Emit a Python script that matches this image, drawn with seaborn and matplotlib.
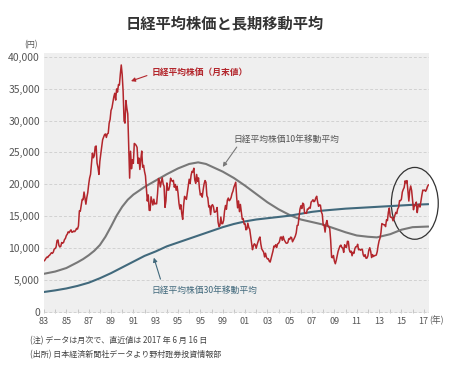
import numpy as np
import pandas as pd
import matplotlib
matplotlib.use('Agg')
import matplotlib.pyplot as plt
import seaborn as sns
from matplotlib.patches import Ellipse

# Nikkei 225, month-end closes (1983/01 - 2017/06)
nikkei_by_year = {
    1983: [8000, 8150, 8400, 8600, 8550, 8800, 8900, 9100, 9300, 9200, 9400, 9890],
    1984: [9950, 10200, 11200, 11300, 10450, 10200, 10300, 10900, 10800, 10900, 11350, 11540],
    1985: [11990, 12200, 12580, 12430, 12700, 12880, 12500, 12550, 12700, 12600, 12800, 13110],
    1986: [13000, 13500, 15860, 15800, 16700, 17650, 17600, 18800, 17900, 16900, 17950, 18700],
    1987: [20000, 21000, 21570, 23270, 24900, 24170, 24490, 25900, 26010, 23330, 22650, 21560],
    1988: [23620, 24700, 25900, 27000, 27400, 27770, 27900, 27350, 27920, 28000, 29580, 30160],
    1989: [31580, 31985, 32840, 33710, 34270, 33200, 34950, 34450, 35640, 35550, 37270, 38700],
    1990: [37190, 34590, 29980, 29590, 33130, 31940, 31040, 25980, 20980, 25190, 22450, 23850],
    1991: [23290, 26410, 26290, 26110, 25790, 23290, 24120, 22340, 23920, 25220, 22690, 22980],
    1992: [22020, 21340, 19350, 17390, 18350, 15950, 15910, 18060, 17400, 16770, 17680, 16920],
    1993: [17020, 16950, 18590, 20920, 20550, 19590, 20380, 21030, 20100, 19700, 16400, 17420],
    1994: [20230, 19120, 19110, 19730, 20970, 20640, 20450, 20630, 19560, 19990, 19080, 19720],
    1995: [18650, 17050, 16140, 16810, 15440, 14520, 16680, 18120, 17910, 17650, 18740, 19870],
    1996: [20810, 20130, 21410, 22040, 21950, 22530, 20690, 20170, 21560, 20470, 21020, 19360],
    1997: [18330, 18560, 18000, 19150, 20070, 20600, 20330, 18230, 17890, 16460, 16630, 15260],
    1998: [16630, 16830, 16530, 15640, 15670, 15830, 16380, 14110, 13400, 13560, 14880, 13840],
    1999: [13860, 14370, 15840, 16700, 16110, 17530, 17860, 17440, 17600, 17940, 18560, 18930],
    2000: [19540, 19960, 20340, 17970, 16330, 17410, 15730, 16860, 15750, 14540, 14650, 13790],
    2001: [13840, 12880, 13000, 13930, 13260, 12970, 11860, 10710, 9770, 10370, 10700, 10540],
    2002: [9990, 10590, 11020, 11490, 11760, 10620, 9880, 9620, 9380, 8640, 9220, 8580],
    2003: [8340, 8360, 7970, 7830, 8420, 9080, 9560, 10340, 10220, 10560, 10100, 10680],
    2004: [10780, 11040, 11720, 11760, 11240, 11860, 11330, 11080, 10820, 10770, 10900, 11490],
    2005: [11390, 11740, 11670, 11010, 11280, 11580, 11900, 12410, 13570, 13610, 14870, 16110],
    2006: [16650, 16210, 17060, 16910, 15470, 15510, 15460, 16140, 16130, 16400, 16270, 17230],
    2007: [17380, 17600, 17290, 17400, 17880, 18140, 17250, 16570, 16790, 16740, 15680, 15310],
    2008: [13590, 13600, 12530, 13850, 14340, 13480, 13380, 13070, 11260, 8580, 8510, 8860],
    2009: [7990, 7570, 8110, 8830, 9520, 9960, 10360, 10490, 10130, 10030, 9350, 10550],
    2010: [10200, 10130, 11090, 11060, 9770, 9380, 9540, 8820, 9370, 9200, 9940, 10230],
    2011: [10240, 10620, 9760, 9850, 9690, 9820, 9830, 8960, 8700, 8990, 8430, 8460],
    2012: [8800, 9720, 10080, 9520, 8540, 9010, 8700, 8840, 8870, 8930, 9450, 10400],
    2013: [11140, 11560, 12400, 13860, 13770, 13680, 13670, 13390, 14460, 14330, 15660, 16290],
    2014: [14910, 14840, 14830, 14300, 14630, 15160, 15620, 15420, 16170, 16410, 17460, 17450],
    2015: [17670, 18800, 19210, 19520, 20560, 20240, 20590, 18890, 17390, 19080, 19750, 19030],
    2016: [17520, 16030, 16760, 16670, 17230, 15580, 16570, 16890, 16450, 17430, 18310, 19110],
    2017: [19040, 19120, 18910, 19200, 19650, 19940],
}

# 10-year moving average (gray)
ma10_years = [1983, 1984, 1985, 1986, 1986.5, 1987, 1987.5, 1988, 1988.5, 1989, 1989.5,
              1990, 1990.5, 1991, 1991.5, 1992, 1993, 1994, 1995, 1996, 1996.8, 1997.5,
              1998, 1999, 2000, 2001, 2002, 2003, 2004, 2005, 2006, 2007, 2008, 2009,
              2010, 2011, 2012, 2012.8, 2014, 2015, 2016, 2017.42]
ma10_values = [6000, 6350, 6900, 7800, 8300, 8900, 9600, 10500, 11800, 13400, 15100,
               16500, 17600, 18400, 19000, 19600, 20600, 21600, 22500, 23200, 23450, 23200,
               22800, 22000, 21000, 19800, 18500, 17200, 16100, 15200, 14500, 14100, 13700, 13100,
               12500, 12000, 11800, 11700, 12200, 12900, 13300, 13400]

# 30-year moving average (blue)
ma30_years = [1983, 1984, 1985, 1986, 1987, 1988, 1989, 1990, 1991, 1992, 1993, 1994,
              1995, 1996, 1997, 1998, 1999, 2000, 2001, 2002, 2003, 2004, 2005, 2006,
              2007, 2008, 2010, 2012, 2014, 2016, 2017.42]
ma30_values = [3150, 3400, 3700, 4100, 4600, 5300, 6100, 7000, 7900, 8800, 9500, 10300,
               10900, 11500, 12100, 12700, 13300, 13800, 14200, 14500, 14700, 14900, 15100, 15400,
               15700, 15900, 16200, 16400, 16600, 16800, 16900]

tick_years = list(range(1983, 2018, 2))
tick_labels = ['83', '85', '87', '89', '91', '93', '95', '95', '99', '01', '03',
               '05', '07', '09', '11', '13', '15', '17']

RED = '#b3262c'
GRAY = '#787878'
BLUE = '#41697c'

nikkei = [v for y in sorted(nikkei_by_year) for v in nikkei_by_year[y]]
months = 1983 + np.arange(len(nikkei)) / 12
df_n = pd.DataFrame({'year': months, 'price': nikkei})
df_10 = pd.DataFrame({'year': ma10_years, 'price': ma10_values})
df_30 = pd.DataFrame({'year': ma30_years, 'price': ma30_values})

sns.set_style('white', {'axes.facecolor': '#efefef'})
plt.rcParams['font.family'] = ['Noto Sans CJK JP', 'DejaVu Sans']

fig = plt.figure(figsize=(4.5, 3.67), dpi=100)
ax = fig.add_axes([0.0978, 0.147, 0.855, 0.709])

sns.lineplot(data=df_10, x='year', y='price', ax=ax, color=GRAY, lw=1.5)
sns.lineplot(data=df_30, x='year', y='price', ax=ax, color=BLUE, lw=1.5)
sns.lineplot(data=df_n, x='year', y='price', ax=ax, color=RED, lw=1.1)

ax.set_xlim(1983, 2017.45)
ax.set_ylim(-150, 40600)
ax.set_xlabel('')
ax.set_ylabel('')
for s in ax.spines.values():
    s.set_visible(False)

ax.set_yticks(range(0, 40001, 5000))
ax.set_yticklabels([f'{v:,}' for v in range(0, 40001, 5000)])
ax.yaxis.grid(True, linestyle=(0, (3, 2)), color='#d2d2d2', lw=0.7)
ax.set_axisbelow(True)
ax.set_xticks(tick_years)
ax.set_xticklabels(tick_labels)
ax.set_xticks(range(1984, 2018, 2), minor=True)
ax.tick_params(axis='y', length=0, pad=3, labelsize=7.5, labelcolor='#555555')
ax.tick_params(axis='x', which='both', direction='in', length=3, width=0.6,
               color='#c0c0c0', pad=3, labelsize=6.5, labelcolor='#555555', bottom=True)

# annotations
ax.text(1992.64, 37490, '日経平均株価（月末値）', color=RED, fontsize=6.3,
        fontweight='bold', va='center', ha='left')
ax.annotate('', xy=(1990.55, 36030), xytext=(1992.45, 37180),
            arrowprops=dict(arrowstyle='-|>', color=RED, lw=0.8, mutation_scale=6))
ax.text(1999.96, 26980, '日経平均株価10年移動平均', color='#555555', fontsize=6.3,
        va='center', ha='left')
ax.annotate('', xy=(1998.86, 22380), xytext=(2000.4, 26200),
            arrowprops=dict(arrowstyle='-|>', color=GRAY, lw=0.8, mutation_scale=6))
ax.text(1992.64, 3450, '日経平均株価30年移動平均', color=BLUE, fontsize=6.3,
        va='center', ha='left')
ax.annotate('', xy=(1992.76, 8940), xytext=(1993.5, 4750),
            arrowprops=dict(arrowstyle='-|>', color=BLUE, lw=0.8, mutation_scale=6))

ax.add_patch(Ellipse((2016.2, 17030), 4.2, 11250, fill=False, edgecolor='#333333',
                     lw=0.9, clip_on=False))

fig.text(0.5, 0.937, '日経平均株価と長期移動平均', ha='center', va='center',
         fontsize=11, fontweight='bold', color='#333333')
fig.text(0.069, 0.877, '(円)', ha='center', va='center', fontsize=5.8, color='#555555')
fig.text(0.955, 0.128, '(年)', ha='left', va='center', fontsize=6.3, color='#555555')
fig.text(0.0667, 0.071, '(注) データは月次で、直近値は 2017 年 6 月 16 日',
         ha='left', va='center', fontsize=5.8, color='#444444')
fig.text(0.0667, 0.033, '(出所) 日本経済新聞社データより野村證券投資情報部',
         ha='left', va='center', fontsize=5.8, color='#444444')

fig.savefig('out.png', dpi=100, facecolor='white')
